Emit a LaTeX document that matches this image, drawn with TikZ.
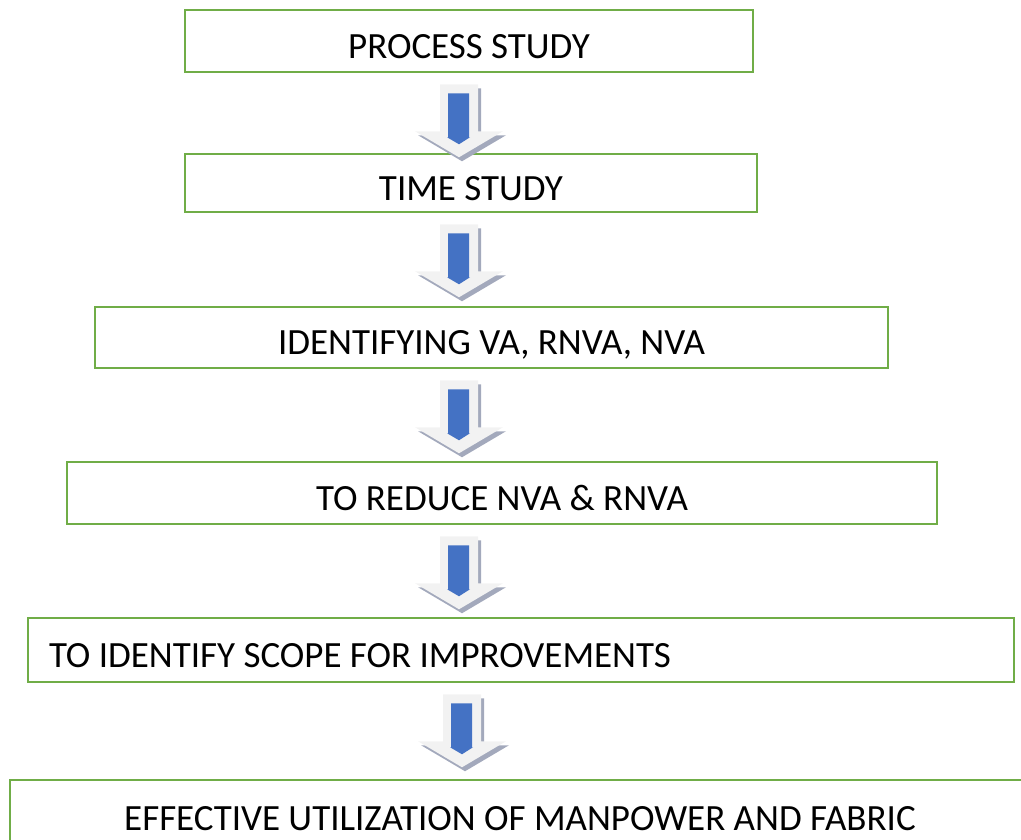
\documentclass[tikz,border=0pt]{standalone}
\usepackage{fontspec}
\setmainfont{Carlito}

\definecolor{boxgreen}{HTML}{70AD47}
\definecolor{arrowblue}{HTML}{4472C4}
\definecolor{arrowgray}{HTML}{F2F2F2}
\definecolor{arrowshade}{HTML}{A3A9BC}

\tikzset{
	stepbox/.style={draw=boxgreen, line width=2.5pt, inner sep=0pt,
		text height=34pt, text depth=0pt, font=\fontsize{37}{44}\selectfont},
	downarrow/.pic={
		\fill[arrowshade] (-16,4) -- (22,4) -- (22,51) -- (47,51) -- (3,77) -- (-41,51) -- (-16,51) -- cycle;
		\fill[arrowgray] (-19,0) -- (19,0) -- (19,47) -- (44,47) -- (0,73) -- (-44,47) -- (-19,47) -- cycle;
		\fill[arrowblue] (-11,9) -- (10,9) -- (10,53) -- (11,53) -- (0,60) -- (-12,53) -- (-11,53) -- cycle;
	}
}

\begin{document}
\begin{tikzpicture}[x=1pt, y=-1pt]
	\clip (0,0) rectangle (1021,839);
	\node[stepbox, minimum width=568pt, minimum height=62pt] (s1) at (469,41) {PROCESS STUDY};
	\node[stepbox, minimum width=572pt, minimum height=58pt] (s2) at (471,183) {TIME STUDY};
	\node[stepbox, minimum width=793pt, minimum height=61pt] (s3) at (491.5,337.5) {IDENTIFYING VA, RNVA, NVA};
	\node[stepbox, minimum width=870pt, minimum height=62pt] (s4) at (502,493) {TO REDUCE NVA \& RNVA};
	\node[stepbox, minimum width=986pt, minimum height=64pt, inner xsep=21pt,
		text width=944pt, align=flush left] (s5) at (521,650) {TO IDENTIFY SCOPE FOR IMPROVEMENTS};
	\node[stepbox, minimum width=1020pt, minimum height=66pt] (s6) at (520,813) {EFFECTIVE UTILIZATION OF MANPOWER AND FABRIC};
	\foreach \a/\c in {s1/459,s2/459,s3/459,s4/459,s5/462}
	{
		\path (\c,0 |- \a.south) ++(0,11) pic {downarrow};
	}
\end{tikzpicture}
\end{document}
